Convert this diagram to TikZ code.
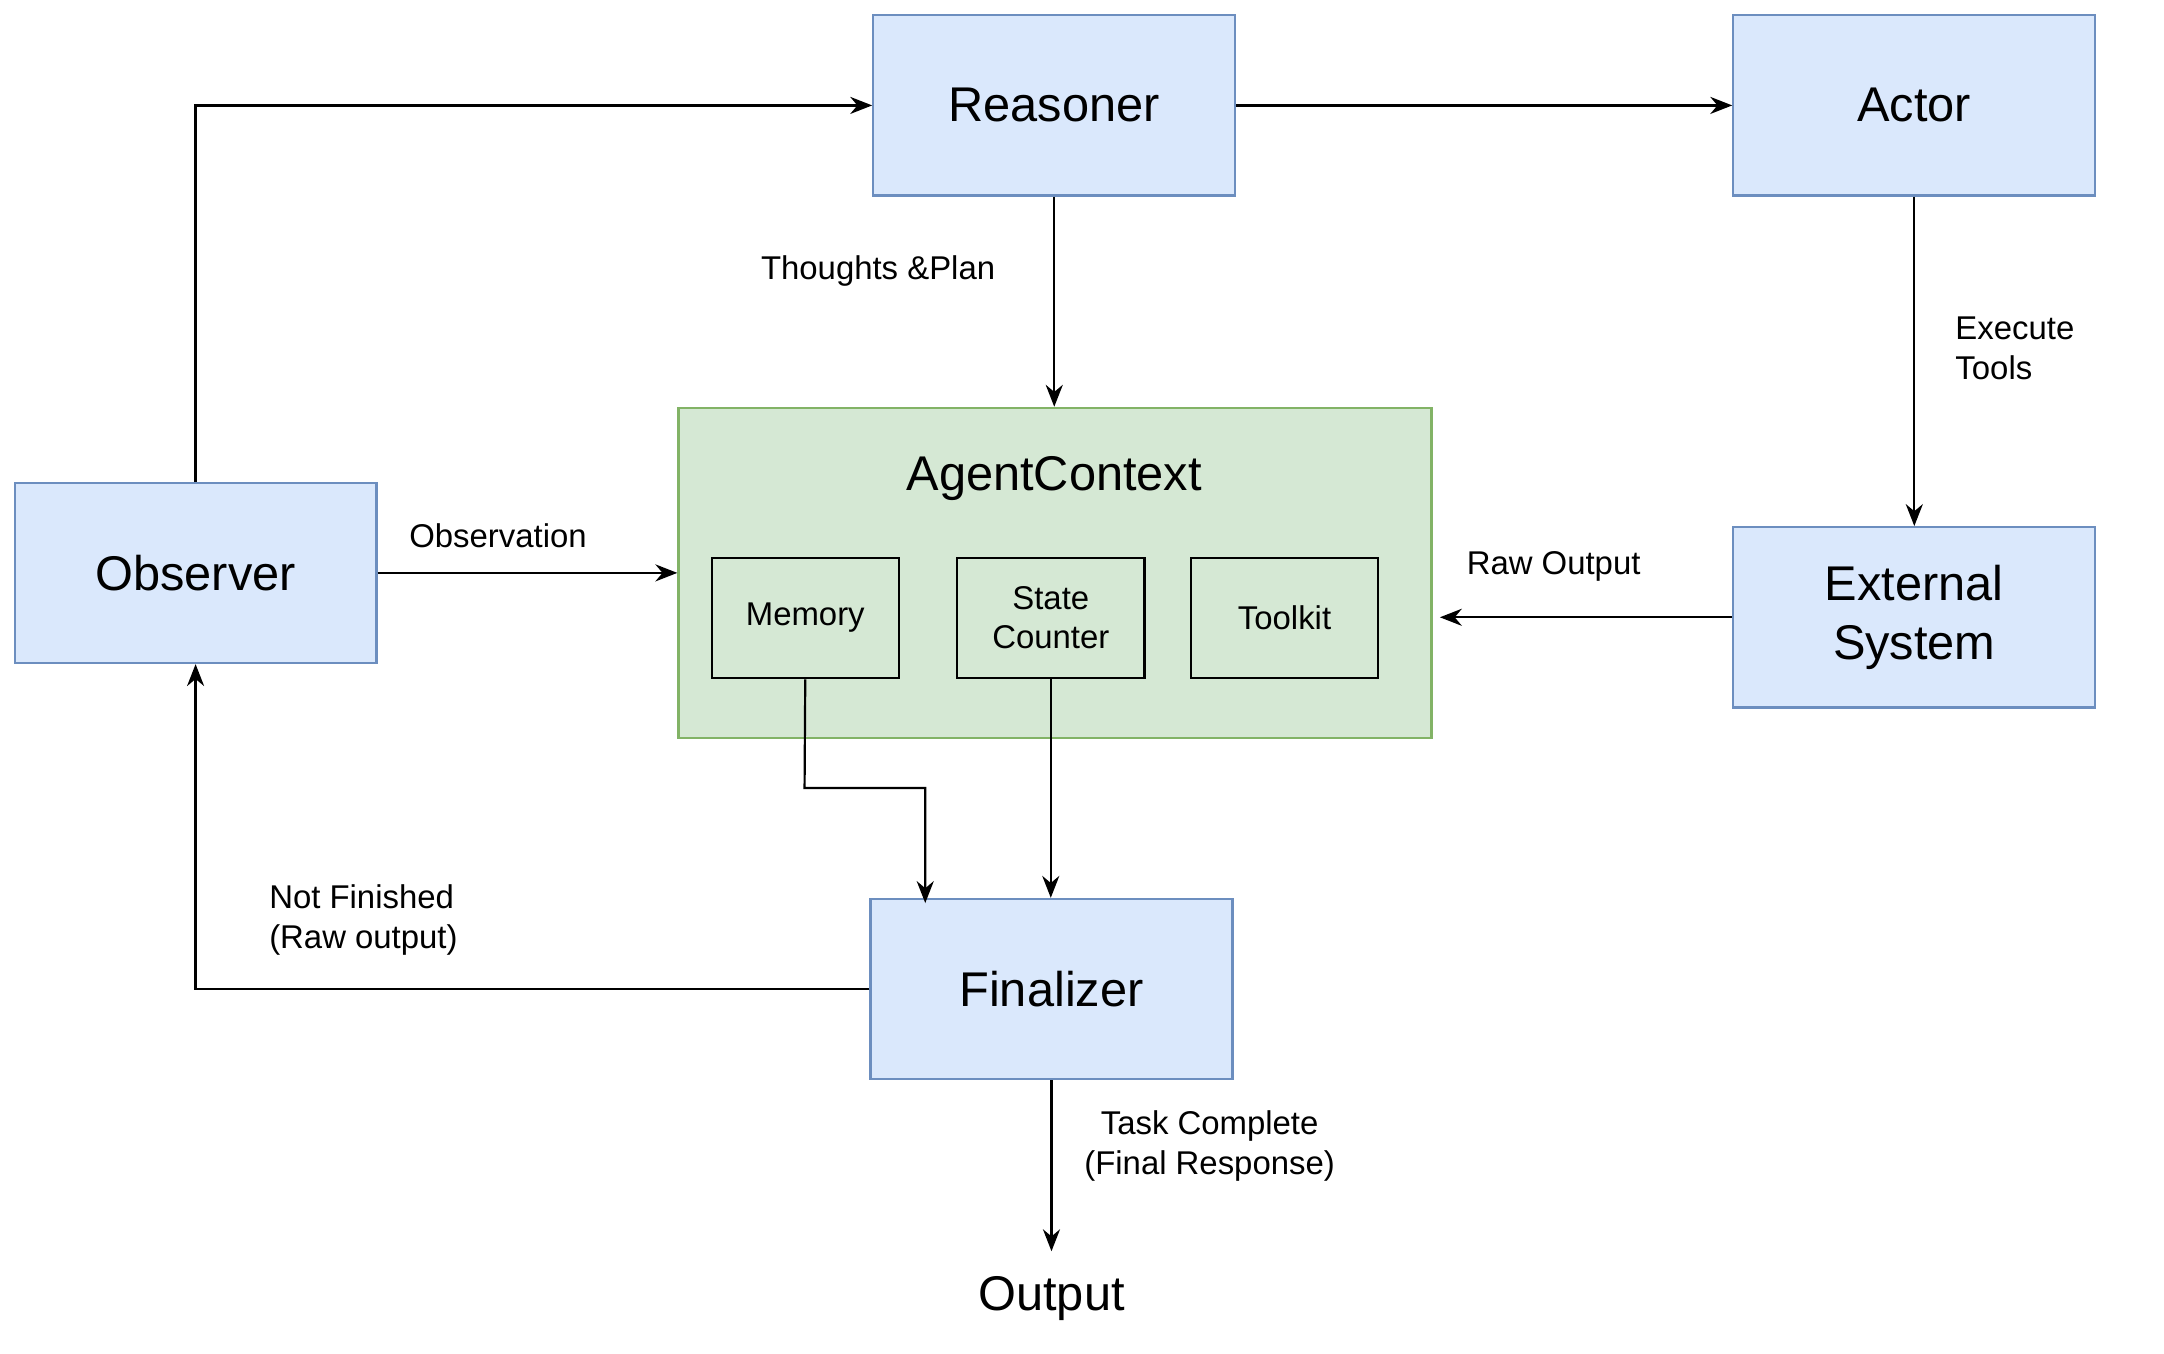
\documentclass[tikz,border=0pt]{standalone}
\usepackage{fontspec}
\setmainfont{Liberation Sans}
\usetikzlibrary{arrows.meta}
\definecolor{bfill}{HTML}{DAE8FC}\definecolor{bdraw}{HTML}{6C8EBF}
\definecolor{gfill}{HTML}{D5E8D4}\definecolor{gdraw}{HTML}{82B366}
\begin{document}
\begin{tikzpicture}[x=0.02cm,y=-0.02cm,line width=0.9pt,
 blue/.style={draw=bdraw,fill=bfill,minimum width=5.22cm,minimum height=2.6cm,font=\fontsize{20}{24}\selectfont,align=center,inner sep=0},
 inner/.style={draw=black,minimum width=2.7cm,minimum height=1.74cm,font=\fontsize{13.5}{16}\selectfont,align=center,inner sep=0},
 lbl/.style={font=\fontsize{13.5}{16.5}\selectfont,align=left},
 arr/.style={-{Stealth[length=9pt,width=7pt]}}]
\useasboundingbox (0,0) rectangle (1560,976);
\node[blue] (reas) at (760,76) {Reasoner};
\node[blue] (act) at (1380,76) {Actor};
\node[blue] (obs) at (141,413) {Observer};
\node[blue] (ext) at (1380,445) {External\\System};
\node[blue] (fin) at (758,713) {Finalizer};
\node[draw=gdraw,fill=gfill,minimum width=10.86cm,minimum height=4.76cm,inner sep=0] (ctx) at (760.5,413) {};
\node[font=\fontsize{20}{24}\selectfont] (ctxt) at (760,345) {AgentContext};
\node[inner] (mem) at (580.5,445.5) {Memory};
\node[inner] (st) at (757.5,445.5) {State\\Counter};
\node[inner] (tk) at (926,445.5) {Toolkit};
\node[font=\fontsize{20}{24}\selectfont] (out) at (758,936) {Output};
\coordinate (outtop) at (758,902);
\draw[arr] (obs.north) |- (reas.west);
\draw[arr] (reas.east) -- (act.west);
\draw[arr] (reas.south) -- (reas.south |- ctx.north);
\draw[arr] (act.south) -- (ext.north);
\draw[arr] (ext.west) -- ([xshift=3pt]ctx.east |- ext.west);
\draw[arr] (obs.east) -- (obs.east -| ctx.west);
\draw[arr] (mem.south) -- (580,568) -- (667,568) -- (667,651);
\draw[arr] (st.south) -- (st.south |- fin.north);
\draw[arr] (fin.west) -| (obs.south);
\draw[arr] (fin.south) -- (outtop);
\node[lbl] at (633,195) {Thoughts \&Plan};
\node[lbl,anchor=west] at (1403,251) {Execute\\Tools};
\node[lbl] at (1120,408) {Raw Output};
\node[lbl] at (359,386) {Observation};
\node[lbl] at (262,663) {Not Finished\\(Raw output)};
\node[lbl,align=center] at (872,826) {Task Complete\\(Final Response)};
\end{tikzpicture}
\end{document}
